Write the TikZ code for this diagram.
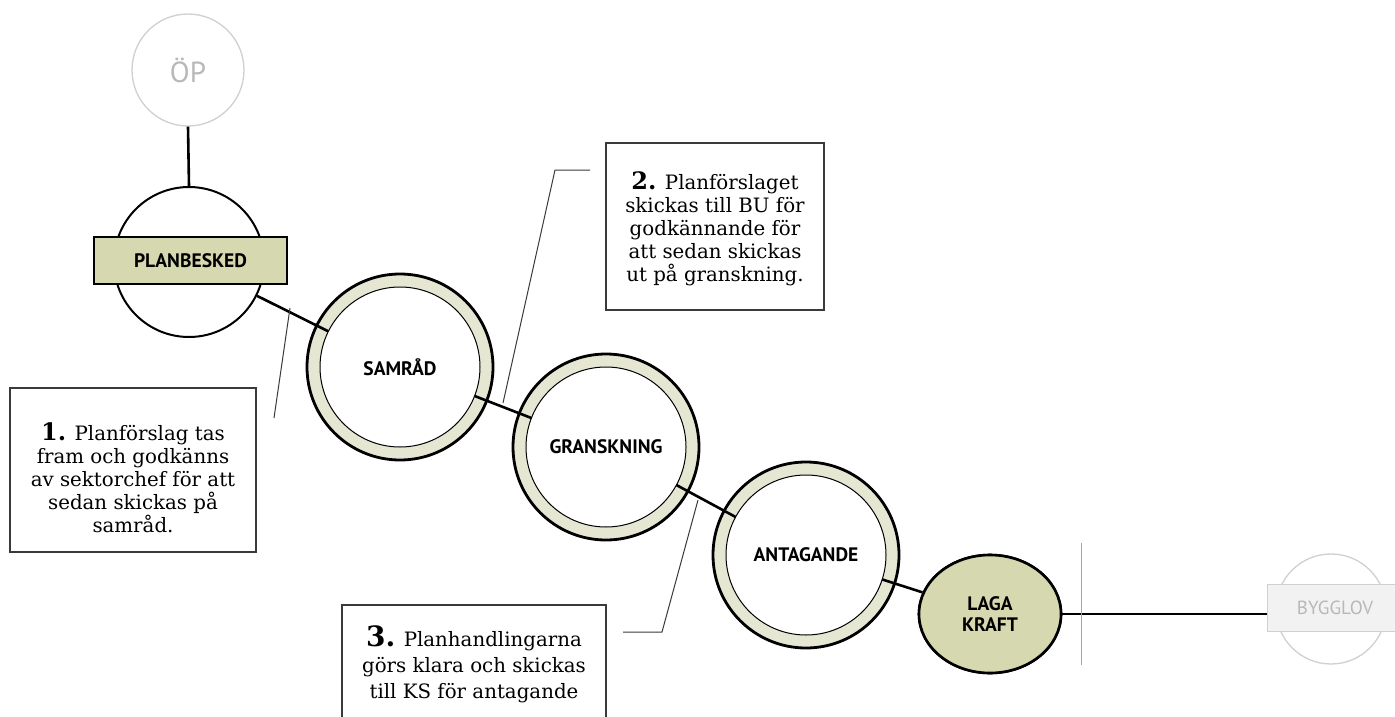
\documentclass[tikz,border=0pt]{standalone}
\usepackage{fontspec}
\setmainfont{DejaVu Serif}
\newfontfamily\labfont{PT Sans}
\usetikzlibrary{shapes.geometric}
\definecolor{olive}{HTML}{D6D8B0}
\definecolor{ringc}{HTML}{E5E7D3}
\definecolor{callc}{HTML}{3A3A3A}
\definecolor{ghost}{HTML}{D0D0D0}
\definecolor{ghosttext}{HTML}{B8B8B8}
\tikzset{
  lab/.style={font=\labfont\bfseries\fontsize{19.5}{21}\selectfont, text=black, align=center},
  ringout/.style={circle, draw=black, line width=2.8pt, fill=ringc, minimum size=186pt, inner sep=0pt},
  ringin/.style={circle, draw=black, line width=1pt, fill=white, minimum size=160pt, inner sep=0pt, lab},
  conn/.style={draw=black, line width=2.6pt},
  callline/.style={draw=callc, line width=1pt},
  callbox/.style={draw=callc, line width=1.3pt, fill=white, inner sep=0pt},
  calltext/.style={align=center, inner sep=0pt, font=\fontsize{19.8}{23}\selectfont}
}
\begin{document}
\begin{tikzpicture}[x=1pt,y=-1pt]
\useasboundingbox (0,0) rectangle (1395,717);
\clip (0,0) rectangle (1395,717);
\fill[white] (0,0) rectangle (1395,717);

% ghost nodes
\node[circle, draw=ghost, line width=1.3pt, minimum size=112pt, inner sep=0pt,
  font=\labfont\fontsize{29}{32}\selectfont, text=ghosttext] (op) at (188,70) {ÖP};
\node[circle, draw=ghost, line width=1.3pt, minimum size=110pt, inner sep=0pt] (bygc) at (1331,609) {};
\node[rectangle, draw=ghost, fill=black!5, line width=1pt, minimum width=136pt, minimum height=47pt,
  inner sep=0pt, font=\labfont\fontsize{19}{21}\selectfont, text=ghosttext] (byg) at (1335,607.5) {BYGGLOV};

% planbesked
\node[circle, draw=black, line width=2pt, fill=white, minimum size=150pt, inner sep=0pt] (pbc) at (189,262) {};
\node[rectangle, draw=black, line width=1.2pt, fill=olive, minimum width=193pt, minimum height=47pt,
  inner sep=0pt, lab] (pb) at (190.5,260.5) {PLANBESKED};

% rings
\node[ringout] (samo) at (400,367) {};
\node[ringout] (grano) at (606,447) {};
\node[ringout] (anto) at (806,555) {};

% laga kraft
\node[ellipse, draw=black, line width=2.6pt, fill=olive, minimum width=142pt, minimum height=118pt,
  inner sep=0pt, lab] (laga) at (990,614) {LAGA\\KRAFT};

% connectors (under inner discs)
\draw[conn] (op.south) -- (pbc.north);
\draw[conn] (pbc) -- (samo.center);
\draw[conn] (samo.center) -- (grano.center);
\draw[conn] (grano.center) -- (anto.center);
\draw[conn] (anto.center) -- (laga);
\draw[conn] (laga.east) -- (laga.east -| byg.west);

% inner discs
\node[ringin] (sam) at (samo.center) {SAMRÅD};
\node[ringin] (gran) at (grano.center) {GRANSKNING};
\node[ringin] (ant) at (anto.center) {ANTAGANDE};
% redraw ellipse on top of connector end
\node[ellipse, draw=black, line width=2.6pt, fill=olive, minimum width=142pt, minimum height=118pt,
  inner sep=0pt, lab] at (laga.center) {LAGA\\KRAFT};

% separator
\coordinate (sepT) at (1081,543);
\coordinate (sepB) at (1081,665);
\draw[draw=black!35, line width=1pt] (sepT) -- (sepB);

% callout boxes
\node[callbox, minimum width=246pt, minimum height=164pt] (c1) at (133,470) {};
\node[calltext] (t1) at (133,478)
  {{\bfseries\fontsize{24}{24}\selectfont 1.} Planförslag tas\\fram och godkänns\\av sektorchef för att\\sedan skickas på\\samråd.};
\node[callbox, minimum width=218pt, minimum height=167pt] (c2) at (715,226.5) {};
\node[calltext] (t2) at (715,229)
  {{\bfseries\fontsize{24}{24}\selectfont 2.} Planförslaget\\skickas till BU för\\godkännande för\\att sedan skickas\\ut på granskning.};
\draw[callc, line width=1.3pt, fill=white] (342,605) rectangle (606,760);
\node[calltext, font=\fontsize{19.8}{26}\selectfont] (c3) at (474,664)
  {{\bfseries\fontsize{28}{28}\selectfont 3.} Planhandlingarna\\görs klara och skickas\\till KS för antagande};

% callout lines
\coordinate (a1) at (290,308);
\coordinate (b1) at (274,418);
\draw[callline] (a1) -- (b1);
\coordinate (a2) at (503,403);
\coordinate (k2) at (555,170);
\coordinate (b2) at (590,170);
\draw[callline] (a2) -- (k2) -- (b2);
\coordinate (a3) at (698,500);
\coordinate (k3) at (662,632);
\coordinate (b3) at (623,632);
\draw[callline] (a3) -- (k3) -- (b3);
\end{tikzpicture}
\end{document}
